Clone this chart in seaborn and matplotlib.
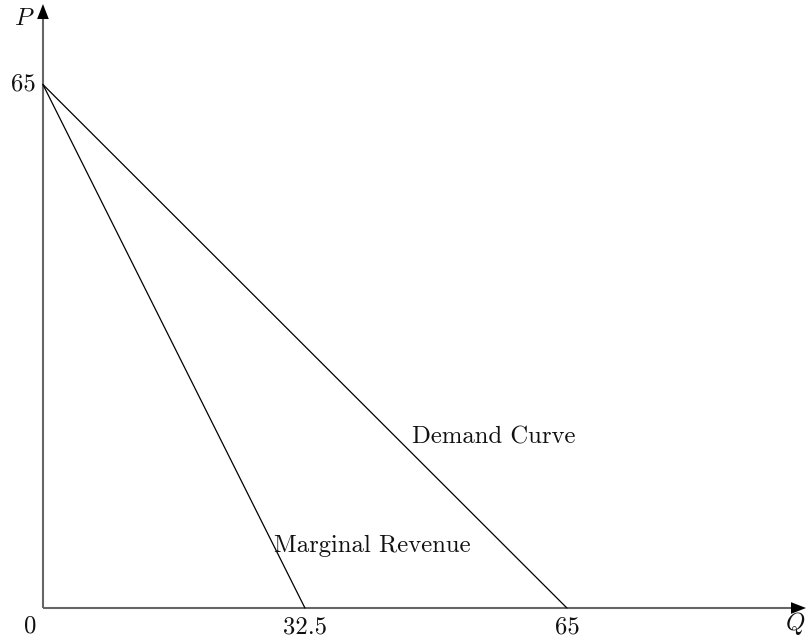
import matplotlib
matplotlib.use("Agg")
import matplotlib.pyplot as plt
import seaborn as sns
import pandas as pd

sns.set_theme(style="white")
plt.rcParams['font.family'] = ['cmr10', 'DejaVu Serif']
plt.rcParams['mathtext.fontset'] = 'cm'
plt.rcParams['axes.formatter.use_mathtext'] = True

# Data
demand_q = [0, 65]
demand_p = [65, 0]
mr_q = [0, 32.5]
mr_p = [65, 0]
x_ticks = [0, 32.5, 65]
x_tick_labels = ["0", "32.5", "65"]
y_ticks = [65]
y_tick_labels = ["65"]

fig = plt.figure(figsize=(8.06, 6.44), dpi=100)
ax = fig.add_axes([0, 0, 1, 1])
ax.set_xlim(-5.33, 94.66)
ax.set_ylim(-4.47, 75.5)
ax.axis('off')

df_d = pd.DataFrame({"Q": demand_q, "P": demand_p})
df_m = pd.DataFrame({"Q": mr_q, "P": mr_p})
sns.lineplot(data=df_d, x="Q", y="P", ax=ax, color="black", linewidth=0.9, sort=False)
sns.lineplot(data=df_m, x="Q", y="P", ax=ax, color="black", linewidth=0.9, sort=False)

# Axes with arrows
ax.plot([0, 93.2], [0, 0], color="#666666", linewidth=1.5, solid_capstyle='butt', zorder=1)
ax.plot([0, 0], [0, 74.0], color="#666666", linewidth=1.5, solid_capstyle='butt', zorder=1)
ax.annotate("", xy=(94.66, 0), xytext=(93.0, 0),
            arrowprops=dict(arrowstyle="-|>,head_length=0.9,head_width=0.35", color="black", lw=0, shrinkA=0, shrinkB=0))
ax.annotate("", xy=(0, 75.0), xytext=(0, 73.5),
            arrowprops=dict(arrowstyle="-|>,head_length=0.9,head_width=0.35", color="black", lw=0, shrinkA=0, shrinkB=0))

fs = 17.8
tc = "#111111"
# tick labels
for v, lab in zip(x_ticks, x_tick_labels):
    if v == 0:
        ax.text(-1.6, -2.3, lab, ha="center", va="center", fontsize=fs, color=tc)
    else:
        ax.text(v, -2.4, lab, ha="center", va="center", fontsize=fs, color=tc)
for v, lab in zip(y_ticks, y_tick_labels):
    ax.text(-0.9, v, lab, ha="right", va="center", fontsize=fs, color=tc)

ax.text(93.3, -1.9, r"$Q$", ha="center", va="center", fontsize=fs, color=tc)
ax.text(-2.3, 73.2, r"$P$", ha="center", va="center", fontsize=fs, color=tc)

ax.text(45.8, 21.2, "Demand Curve", ha="left", va="center", fontsize=fs, color=tc)
ax.text(28.7, 7.7, "Marginal Revenue", ha="left", va="center", fontsize=fs, color=tc)

fig.savefig("out.png", dpi=100, facecolor="white")
